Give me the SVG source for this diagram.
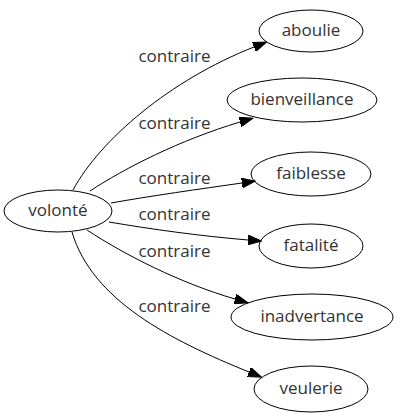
<svg xmlns="http://www.w3.org/2000/svg" width="400" height="419" viewBox="0 0 400 419">
<defs>
<style>
.node ellipse{fill:none;stroke:#000;stroke-width:1}
text{font-family:"Open Sans","DejaVu Sans",sans-serif;font-size:17px;fill:#333;text-anchor:middle}
.edge path{fill:none;stroke:#000;stroke-width:1}
</style>
<marker id="arr" markerUnits="userSpaceOnUse" markerWidth="14" markerHeight="10" refX="0" refY="4.5" orient="auto" viewBox="0 0 13 9">
<path d="M0,0 L12.5,4.5 L0,9 Z" fill="#000" stroke="#000" stroke-width="1"/>
</marker>
</defs>
<rect width="400" height="419" fill="#fff"/>
<g id="connectors">
<g class="edge" id="e1"><path d="M73,190 C100,140 170,80 254,47" marker-end="url(#arr)"/><text x="174.5" y="62">contraire</text></g>
<g class="edge" id="e2"><path d="M90,191 C125,168 180,140 240,122" marker-end="url(#arr)"/><text x="174.5" y="129">contraire</text></g>
<g class="edge" id="e3"><path d="M111,203 C150,196 200,189 242,183" marker-end="url(#arr)"/><text x="174.5" y="184">contraire</text></g>
<g class="edge" id="e4"><path d="M109,222 C150,229 200,236 248,240" marker-end="url(#arr)"/><text x="174.5" y="220">contraire</text></g>
<g class="edge" id="e5"><path d="M87,230 C125,255 180,283 235,299" marker-end="url(#arr)"/><text x="174.5" y="257">contraire</text></g>
<g class="edge" id="e6"><path d="M72,232 C92,300 170,340 249,372" marker-end="url(#arr)"/><text x="174.5" y="312">contraire</text></g>
</g>
<g class="node" id="volonte"><ellipse cx="58" cy="211" rx="54" ry="21"/><text x="58" y="216">volonté</text></g>
<g class="node" id="aboulie"><ellipse cx="311" cy="31" rx="52" ry="21"/><text x="311" y="36">aboulie</text></g>
<g class="node" id="bienveillance"><ellipse cx="302" cy="100" rx="75" ry="22"/><text x="302" y="105">bienveillance</text></g>
<g class="node" id="faiblesse"><ellipse cx="311" cy="174" rx="60" ry="22"/><text x="311" y="179">faiblesse</text></g>
<g class="node" id="fatalite"><ellipse cx="311" cy="246" rx="52" ry="22"/><text x="311" y="251">fatalité</text></g>
<g class="node" id="inadvertance"><ellipse cx="312" cy="317" rx="81" ry="23"/><text x="312" y="322">inadvertance</text></g>
<g class="node" id="veulerie"><ellipse cx="311" cy="389" rx="57" ry="23"/><text x="311" y="394">veulerie</text></g>
</svg>
